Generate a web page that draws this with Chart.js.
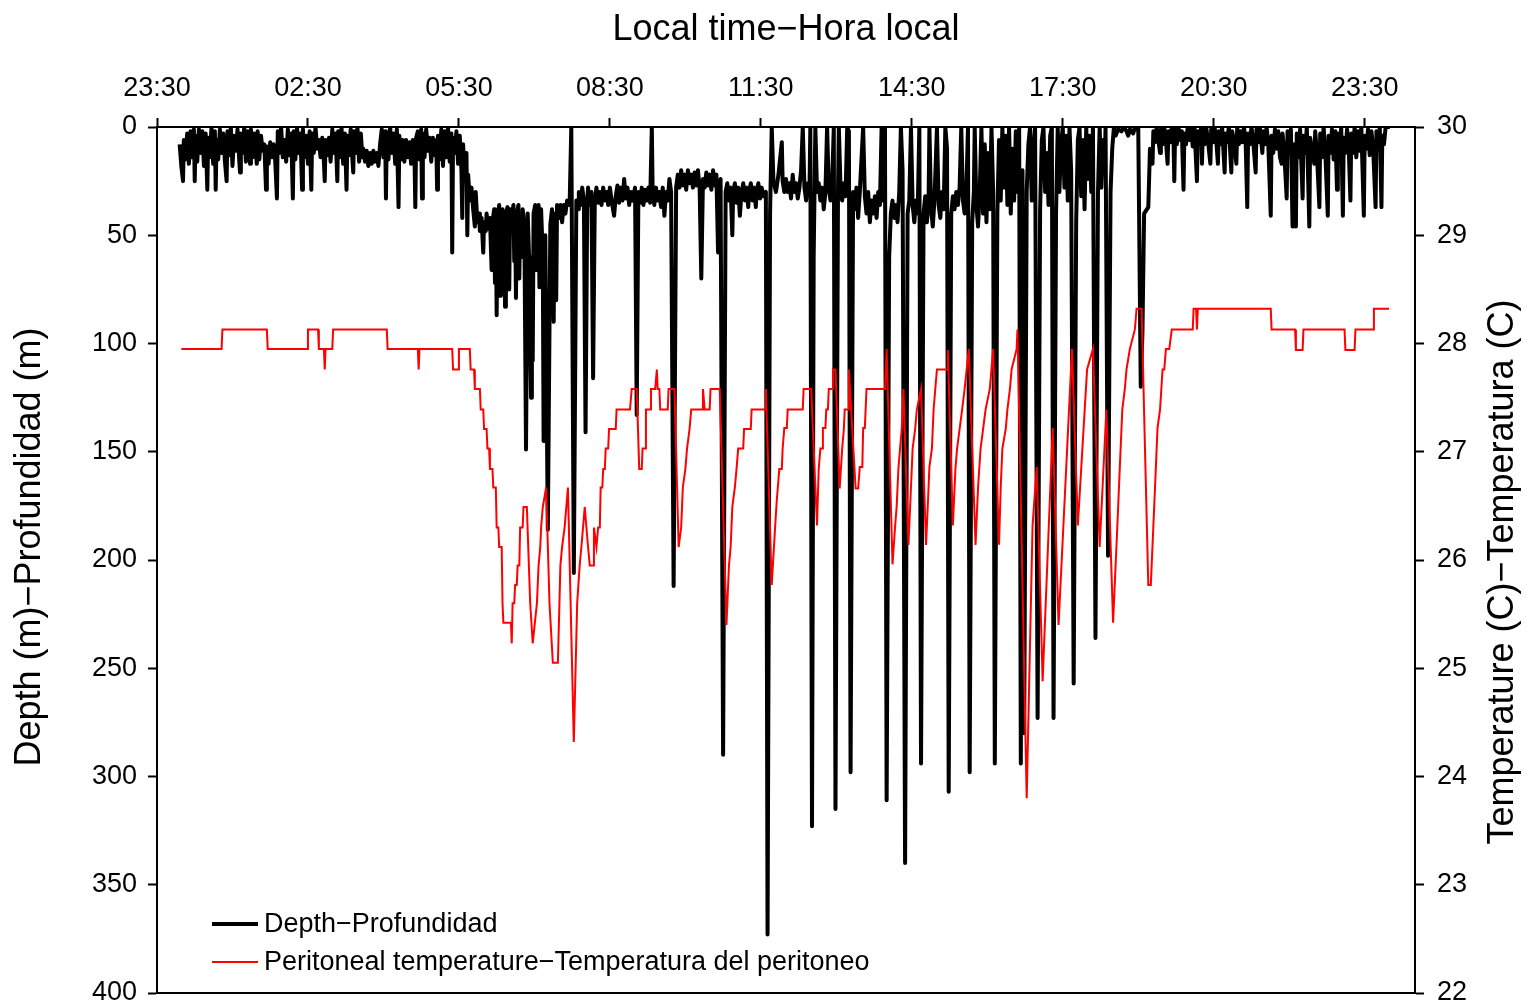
<!DOCTYPE html>
<html>
<head>
<meta charset="utf-8">
<script src="https://cdn.jsdelivr.net/npm/chart.js@4.4.1/dist/chart.umd.min.js"></script>
<style>
  html, body { margin: 0; padding: 0; background: #fff; overflow: hidden; }
  #wrap { width: 1527px; height: 1005px; }
  canvas { display: block; }
</style>
</head>
<body>
<div id="wrap"><canvas id="myChart" width="1527" height="1005"></canvas></div>
<script>
// time is in minutes after 23:30
const timeTicks = [0, 180, 360, 540, 720, 900, 1080, 1260, 1440];
const timeLabels = ['23:30', '02:30', '05:30', '08:30', '11:30', '14:30', '17:30', '20:30', '23:30'];
const depthTicks = [0, 50, 100, 150, 200, 250, 300, 350, 400];
const tempTicks = [22, 23, 24, 25, 26, 27, 28, 29, 30];
const seriesNames = ['Depth\u2212Profundidad', 'Peritoneal temperature\u2212Temperatura del peritoneo'];
const axisTitles = ['Local time\u2212Hora local', 'Depth (m)\u2212Profundidad (m)', 'Temperature (C)\u2212Temperatura (C)'];

// depth (m), [minute, depth]
const depthNight = [
  [27,8],[29,18],[31,25],[32,6],[34,15],[36,3],[38,17],[40,2],[42,14],[44,1],[45,25],[46,4],[48,16],[50,1],[52,12],[54,2],[56,18],[58,3],
  [60,29],[61,5],[63,14],[65,0],[67,17],[69,2],[70,29],[71,6],[73,15],[75,1],[77,12],[79,3],[81,16],[83,25],[84,2],[86,13],[88,0],[90,18],
  [92,4],[94,11],[96,1],[98,15],[99,21],[100,3],[102,12],[104,0],[106,16],[108,2],[110,10],[111,17],[112,1],[114,14],[116,3],[118,12],
  [119,17],[120,2],[122,15],[124,4],[126,11],[128,8],[130,29],[131,9],[133,17],[135,7],[137,14],[139,8],[141,16],[143,33],[144,2],[146,12],
  [148,0],[150,14],[152,6],[154,16],[156,1],[158,13],[160,3],[162,33],[163,2],[165,15],[167,0],[169,12],[171,3],[173,29],[174,1],[176,14],
  [178,4],[180,17],[182,2],[184,29],[185,3],[187,12],[189,0],[191,10],[193,6],[195,14],[197,5],[199,16],[200,25],[201,6],[203,13],[205,5],
  [207,16],[209,1],[211,12],[213,3],[215,25],[216,2],[218,14],[220,0],[222,17],[224,3],[226,29],[227,4],[229,13],[231,1],[233,15],[234,21],
  [235,2],[237,12],[239,0],[241,16],[243,3],[245,14],[246,10],[248,16],[250,11],[252,18],[254,12],[256,17],[258,11],[260,16],[262,12],
  [264,18],[266,8],[268,1],[270,14],[272,2],[273,33],[274,3],[276,15],[278,0],[280,12],[282,3],[284,17],[286,1],[288,37],[289,4],[291,15],
  [293,6],[295,16],[297,6],[299,14],[301,7],[303,17],[305,6],[307,13],[308,37],[309,5],[311,2],[313,15],[315,1],[316,33],[317,3],[319,14],
  [321,1],[323,11],[325,5],[327,16],[329,5],[331,13],[333,6],[334,29],[335,4],[337,15],[339,1],[341,18],[343,2],[345,14],[347,0],[349,16],
  [351,3],[352,58],[353,5],[355,12],[357,2],[359,17],[361,4],[363,20],[364,42],[365,8],[367,25],[369,12],[370,50],[371,22],[373,34],
  [375,28],[377,38],[379,46],[380,30]
];
const depthMorning = [
  [382,44],[384,40],[385,48],[387,42],[389,58],[390,44],[392,48],[393,40],[395,47],[397,42],[399,66],[400,44],[402,38],[403,72],[404,40],
  [405,87],[406,42],[408,36],[409,78],[410,40],[411,75],[412,38],[414,44],[415,83],[416,40],[418,37],[420,75],[421,38],[423,42],[425,36],
  [426,62],[427,40],[428,79],[429,40],[431,36],[432,70],[433,42],[435,60],[436,38],[438,45],[440,149],[442,40],[444,64],[446,125],[447,60],
  [448,108],[449,40],[451,36],[452,66],[453,44],[455,36],[456,74],[457,52],[458,38],[460,60],[461,145],[463,50],[464,96],[466,186],[469,45],
  [471,38],[473,90],[474,40],[476,80],[477,36],[479,42],[481,36],[483,44],[485,36],[487,40],[489,34],[492,36],[494,0],[497,206],[500,34],
  [502,38],[503,30],[505,36],[507,28],[509,34],[511,141],[513,34],
  [514,28],[516,36],[518,30],[520,116],[522,34],[524,28],[526,35],[528,30],[530,36],[532,28],[534,34],[536,30],[538,36],[540,28],[542,34],
  [545,41],[547,32],[549,27],[551,35],[553,28],[555,34],[557,24],[559,33],[561,28],[563,36],[565,30],[567,34],[570,28],[572,133],[574,30],
  [576,35],[578,28],[580,36],[582,29],[584,34],[586,28],[588,35],[590,0],[591,30],[593,36],[595,28],[597,34],[599,30],[601,37],[603,28],
  [605,41],[607,30],[609,34],[611,24],[613,30],[616,212],[619,28],[621,22],[623,28],[625,20],[627,27],[629,22],[631,29],[633,20],[635,26],
  [637,22],[639,28],[641,21],[643,27],[645,20],[647,28],[649,70],[651,24],[653,28],[655,21],[657,27],[659,22],[661,29],[663,20],[665,27],
  [667,22],[669,58],[670,28],[672,24],[675,290],[678,30],[680,26],[682,34],[684,28],[686,50],[687,30],[689,26],[691,35],[693,28],[695,41],
  [697,30],[699,26],[701,34],[703,28],[705,37],[706,30],[708,26],[710,34],[712,28],[714,37],[715,30],[717,26],[719,33],[721,28],[723,32],
  [726,30],[728,373],[731,40],[733,0],[735,25],[738,30],[741,22],[745,7],[746,25],[748,30]
];
const depthMidday = [
  [750,24],[752,30],[754,26],[756,33],[758,22],[760,30],[762,26],[764,33],[766,28],[768,20],[770,0],[772,28],[774,34],[776,26],[778,30],
  [779,0],[781,323],[783,60],[785,0],[787,30],[789,26],[791,34],[793,28],[795,38],[797,30],[799,0],[801,28],[803,34],[805,26],[807,0],
  [809,315],[812,30],[813,0],[815,28],[817,34],[819,26],[821,32],[823,0],[825,2],[827,298],[830,30],[832,38],[834,28],[836,42],[838,30],
  [842,0],[844,32],[846,40],[848,30],[850,44],[852,34],[854,40],[856,32],[858,42],[860,30],[862,36],[864,0],[866,34],[868,0],[870,311],
  [873,60],[875,40],[877,34],[879,42],[881,36],[883,44],[885,30],[887,0],[889,20],[892,340],[895,40],[897,34],[899,0],[901,36],[903,44],
  [905,34],[907,40],[909,0],[911,294],[914,40],[916,32],[918,44],[920,34],[921,0],[923,38],[925,46],[927,34],[930,0],[932,36],[934,42],
  [936,30],[938,38],[940,0],[942,10],[944,307],[947,40],[949,32],[951,38],[953,30],[955,36],[957,28],[959,0],[961,34],[963,40],[965,30],
  [967,0],[969,298],[972,44],[974,30],[975,0],[977,36],[979,46],[981,30],[983,0],[985,40],[987,8],[989,44],[991,12],[993,38],[995,0],
  [997,30],[999,294],[1002,40],[1004,6],[1006,34],[1008,0],[1010,28],[1012,4],[1014,36],[1016,0],[1018,40],[1020,10],[1022,34],[1024,2],
  [1026,30],[1028,0],[1030,294],[1031,100],[1032,20],[1034,280],[1037,30],[1039,8],[1041,0],[1043,34],[1045,10],[1047,0],[1050,273],
  [1053,38],[1055,6],[1057,0],[1059,30],[1061,12],[1063,36],[1065,4],[1067,0],[1069,273],[1072,40],[1074,0],[1076,30],[1078,8],[1080,0],
  [1082,28],[1084,4],[1086,34],[1088,0],[1090,20],[1093,257],[1096,44],[1098,6],[1100,0],[1102,32],[1104,6],[1106,38],[1108,0],[1110,24],
  [1112,4],[1114,30],[1116,0],[1119,236],[1122,30],[1124,0],[1126,28],[1128,6],[1130,20],[1131,0],[1134,198],[1137,30],[1139,10],[1141,0],
  [1143,4],[1146,1],[1150,2],[1153,0],[1156,2],[1158,4],[1160,1],[1164,3],[1166,0],[1168,1],[1170,0],[1173,120],[1175,95],[1177,40],
  [1182,37],[1184,10]
];
const depthEvening = [
  [1187,17],[1188,2],[1190,7],[1192,0],[1194,6],[1196,12],[1197,1],[1199,8],[1201,0],[1203,6],[1205,17],[1206,2],[1208,7],[1210,0],[1212,5],
  [1213,25],[1214,1],[1216,8],[1218,0],[1220,6],[1222,2],[1224,29],[1225,3],[1227,8],[1229,0],[1231,6],[1233,1],[1235,9],[1237,0],[1240,25],
  [1241,2],[1243,7],[1245,0],[1246,17],[1247,2],[1249,8],[1251,0],[1253,6],[1256,17],[1257,1],[1259,7],[1261,0],[1263,6],[1265,17],[1266,2],
  [1268,8],[1270,0],[1273,21],[1274,3],[1276,7],[1278,0],[1281,21],[1282,2],[1284,6],[1287,17],[1288,0],[1290,8],[1292,2],[1294,7],[1296,0],
  [1298,6],[1300,37],[1301,3],[1303,8],[1305,0],[1307,6],[1310,21],[1311,1],[1313,7],[1315,0],[1318,12],[1319,2],[1321,8],[1323,0],[1325,7],
  [1328,41],[1329,4],[1331,12],[1333,1],[1335,10],[1337,2],[1339,14],[1341,17],[1342,3],[1344,11],[1347,33],[1348,2],[1350,12],[1352,1],
  [1354,46],[1356,8],[1358,46],[1359,3],[1361,14],[1363,1],[1366,33],[1367,4],[1369,12],[1371,0],[1374,46],[1375,5],[1377,10],[1380,17],
  [1381,2],[1383,12],[1386,37],[1387,3],[1389,14],[1391,0],[1393,11],[1396,41],[1397,4],[1399,12],[1401,1],[1403,15],[1405,2],[1407,29],
  [1408,3],[1410,13],[1412,0],[1414,41],[1415,5],[1417,12],[1419,1],[1421,10],[1423,34],[1424,3],[1426,12],[1428,0],[1430,14],[1432,2],
  [1434,11],[1436,0],[1439,41],[1440,4],[1442,10],[1444,1],[1446,13],[1448,2],[1450,9],[1453,37],[1454,2],[1456,10],[1458,0],[1460,37],
  [1461,4],[1463,8],[1465,0],[1470,0]
];

// peritoneal temperature (C), [minute, temp]
const tempNight = [
  [29,27.95],[77,27.95],[78,28.13],[131,28.13],[132,27.95],[179,27.95],[180,28.13],[192,28.13],[193,27.95],[199,27.95],[200,27.76],
  [201,27.95],[209,27.95],[210,28.13],[274,28.13],[275,27.95],[311,27.95],[312,27.76],[313,27.95],[352,27.95],[353,27.76],[359,27.76],
  [360,27.95],[373,27.95],[374,27.76],[378,27.76]
];
const tempMorning = [
  [379,27.58],[385,27.58],[386,27.39],[389,27.39],[390,27.21],[393,27.21],[394,27.03],[396,27.03],[397,26.84],[400,26.84],[401,26.67],
  [404,26.67],[405,26.30],[407,26.30],[408,26.12],[411,26.12],[412,25.60],[413,25.42],[422,25.42],[423,25.23],[424,25.60],[426,25.60],
  [427,25.77],[429,25.77],[430,25.95],[432,25.95],[433,26.30],[436,26.30],[437,26.49],[441,26.49],[445,25.60],[448,25.23],[453,25.60],
  [455,25.95],[457,26.12],[458,26.30],[460,26.49],[464,26.67],[468,25.60],[472,25.05],[478,25.05],[481,25.95],[483,26.12],[486,26.30],
  [490,26.67],[497,24.32],[501,25.60],[504,25.95],[506,26.12],[508,26.30],[510,26.49],[514,26.12],[516,25.95],[520,25.95],[521,26.30],
  [524,26.12],[526,26.30],[528,26.30],[529,26.67],[531,26.67],[532,26.84],[534,26.84],[535,27.03],[538,27.03],[539,27.21],[547,27.21],
  [548,27.39],[564,27.39],[566,27.58],[572,27.58],[575,26.84],[578,26.84],[579,27.03],[582,27.03],[583,27.39],[588,27.39],[589,27.58],
  [594,27.58],[596,27.76],[597,27.58],[599,27.58],[600,27.39],[609,27.39],[610,27.58],[617,27.58],[622,26.12],[625,26.30],[627,26.67],
  [630,26.84],[632,27.03],[635,27.21],[637,27.39],[650,27.39],[651,27.58],[653,27.39],[659,27.39],[660,27.58],[671,27.58],[679,25.40],
  [682,25.95],[684,26.12],[686,26.49],[689,26.67],[691,26.84],[693,27.03],[699,27.03],[700,27.21],[708,27.21],[709,27.39],[725,27.39],
  [726,27.58],[733,25.77],[737,26.30],[739,26.55],[742,26.84],[745,26.84],[746,27.03],[748,27.22],[751,27.22],[752,27.39]
];
const tempMidday = [
  [770,27.39],[771,27.58],[780,27.58],[787,26.32],[789,26.84],[791,27.03],[793,27.03],[794,27.22],[797,27.22],[798,27.39],[800,27.39],
  [801,27.58],[805,27.58],[806,27.76],[809,27.76],[814,26.66],[817,27.03],[819,27.21],[820,27.39],[824,27.39],[825,27.76],[833,26.66],
  [836,26.66],[838,26.86],[841,26.86],[842,27.22],[844,27.22],[846,27.58],[868,27.58],[870,27.95],[877,25.96],[880,26.30],[882,26.50],
  [884,26.84],[886,27.03],[888,27.21],[890,27.58],[896,26.14],[899,26.67],[901,27.03],[904,27.21],[906,27.39],[911,27.58],[917,26.14],
  [919,26.49],[921,26.86],[924,27.03],[926,27.39],[928,27.58],[930,27.76],[942,27.76],[943,27.94],[949,26.32],[952,26.84],[954,27.03],
  [957,27.21],[960,27.39],[963,27.58],[968,27.95],[976,26.14],[979,26.67],[982,27.03],[985,27.21],[988,27.39],[993,27.58],[997,27.95],
  [1004,26.14],[1006,26.67],[1008,27.03],[1012,27.21],[1014,27.39],[1017,27.58],[1019,27.76],[1025,27.95],[1026,28.13],[1037,23.80],
  [1044,26.32],[1049,26.86],[1056,24.88],[1068,27.22],[1075,25.40],[1091,27.95],[1098,26.32],[1109,27.76],[1116,27.95],[1124,26.12],
  [1132,27.39],[1140,25.42],[1145,26.30],[1148,26.85],[1151,27.39],[1154,27.58],[1156,27.76],[1160,27.95],[1166,28.13],[1168,28.32],
  [1174,28.32],[1182,25.77],[1185,25.77],[1190,26.67],[1193,27.22],[1196,27.39],[1199,27.76],[1201,27.76],[1203,27.95],[1207,27.95],
  [1210,28.13]
];
const tempEvening = [
  [1235,28.13],[1236,28.32],[1239,28.32],[1240,28.13],[1241,28.32],[1328,28.32],[1329,28.13],[1357,28.13],[1358,27.94],[1366,27.94],
  [1367,28.13],[1416,28.13],[1417,27.94],[1428,27.94],[1429,28.13],[1450,28.13],[1451,28.32],[1469,28.32]
];

const toPoints = (arr) => arr.map((p) => ({ x: p[0], y: p[1] }));
const depthData = toPoints([].concat(depthNight, depthMorning, depthMidday, depthEvening));
const tempData = toPoints([].concat(tempNight, tempMorning, tempMidday, tempEvening));

const FONT = '"Liberation Sans", Arial, sans-serif';
Chart.defaults.color = '#000';
Chart.defaults.font.family = FONT;

// frame, vertical axis titles and the in-plot legend
const framePlugin = {
  id: 'frame',
  afterDraw(chart) {
    const { ctx, chartArea } = chart;
    ctx.save();
    ctx.strokeStyle = '#000';
    ctx.lineWidth = 2;
    ctx.strokeRect(chartArea.left, chartArea.top, chartArea.right - chartArea.left, chartArea.bottom - chartArea.top);

    // both side titles read bottom to top
    ctx.fillStyle = '#000';
    ctx.font = '36px ' + FONT;
    ctx.textAlign = 'center';
    ctx.textBaseline = 'middle';
    [[30, 547, axisTitles[1]], [1503, 572, axisTitles[2]]].forEach(([x, y, t]) => {
      ctx.save();
      ctx.translate(x, y);
      ctx.rotate(-Math.PI / 2);
      ctx.fillText(t, 0, 0);
      ctx.restore();
    });

    const x0 = chartArea.left + 55;
    const rows = [chartArea.bottom - 69, chartArea.bottom - 31];
    const widths = [4, 2];
    ctx.font = '27px ' + FONT;
    ctx.textAlign = 'left';
    chart.data.datasets.forEach((ds, i) => {
      ctx.strokeStyle = ds.borderColor;
      ctx.lineWidth = widths[i];
      ctx.beginPath();
      ctx.moveTo(x0, rows[i]);
      ctx.lineTo(x0 + 46, rows[i]);
      ctx.stroke();
      ctx.fillText(ds.label, x0 + 52, rows[i] + 1);
    });
    ctx.restore();
  }
};

const axisGrid = { drawOnChartArea: false, drawTicks: true, tickLength: 9, tickWidth: 2, tickColor: '#000' };
const axisBorder = { display: true, color: '#000', width: 2 };
const sideFit = (w) => (s) => { s.width = w; s.paddingTop = 0; s.paddingBottom = 0; };

new Chart(document.getElementById('myChart').getContext('2d'), {
  type: 'line',
  data: {
    datasets: [
      {
        label: seriesNames[0],
        data: depthData,
        yAxisID: 'yDepth',
        borderColor: '#000000',
        borderWidth: 4,
        borderJoinStyle: 'round',
        pointRadius: 0,
        tension: 0,
        order: 2
      },
      {
        label: seriesNames[1],
        data: tempData,
        yAxisID: 'yTemp',
        borderColor: '#ff0000',
        borderWidth: 2,
        pointRadius: 0,
        tension: 0,
        order: 1
      }
    ]
  },
  options: {
    responsive: false,
    animation: false,
    devicePixelRatio: 1,
    layout: { padding: { left: 0, right: 0, top: 0, bottom: 12 } },
    plugins: { legend: { display: false }, tooltip: { enabled: false } },
    scales: {
      x: {
        type: 'linear',
        position: 'top',
        min: 0,
        max: 1500,
        afterBuildTicks: (s) => { s.ticks = timeTicks.map((v) => ({ value: v })); },
        afterFit: (s) => { s.height = 127; s.paddingLeft = 0; s.paddingRight = 0; },
        ticks: {
          callback: (v, i) => timeLabels[i],
          font: { size: 27 },
          padding: 13,
          maxRotation: 0,
          autoSkip: false
        },
        grid: axisGrid,
        border: axisBorder,
        title: { display: true, text: axisTitles[0], font: { size: 36 }, padding: { top: 8, bottom: 0 } }
      },
      yDepth: {
        type: 'linear',
        position: 'left',
        reverse: true,
        min: 0,
        max: 400,
        afterBuildTicks: (s) => { s.ticks = depthTicks.map((v) => ({ value: v })); },
        afterFit: sideFit(157),
        ticks: { font: { size: 27 }, padding: 11 },
        grid: axisGrid,
        border: axisBorder
      },
      yTemp: {
        type: 'linear',
        position: 'right',
        min: 22,
        max: 30,
        afterBuildTicks: (s) => { s.ticks = tempTicks.map((v) => ({ value: v })); },
        afterFit: sideFit(112),
        ticks: { font: { size: 27 }, padding: 13 },
        grid: axisGrid,
        border: axisBorder
      }
    }
  },
  plugins: [framePlugin]
});
</script>
</body>
</html>
